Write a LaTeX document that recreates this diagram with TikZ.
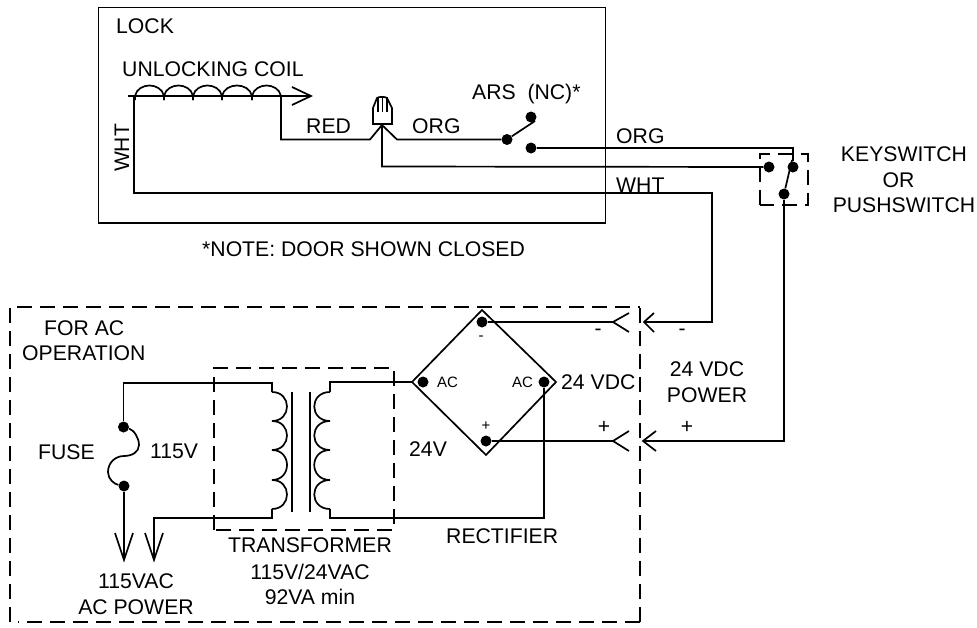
\documentclass[tikz,border=0pt]{standalone}
\usepackage{fontspec}
\setmainfont{Liberation Sans}
\begin{document}
\begin{tikzpicture}[x=1pt,y=-1pt,line join=miter,
  wire/.style={draw=black,line width=1.7pt},
  dashbox/.style={draw=black,line width=1.7pt,dash pattern=on 15pt off 8pt},
  thin wire/.style={draw=black,line width=1.5pt},
  dot/.style={circle,fill=black,draw=none,inner sep=0pt,minimum size=11pt},
  lbl/.style={inner sep=0pt,font=\fontsize{21.2}{21.2}\selectfont,anchor=base west,text=black},
  clbl/.style={inner sep=0pt,font=\fontsize{21.2}{21.2}\selectfont,anchor=base,text=black},
  small/.style={inner sep=0pt,font=\fontsize{15}{15}\selectfont,anchor=base west,text=black},
  sign/.style={inner sep=0pt,font=\fontsize{21}{21}\selectfont,anchor=center,text=black},
  ssign/.style={inner sep=0pt,font=\fontsize{15}{15}\selectfont,anchor=center,text=black}]
\useasboundingbox (0,0) rectangle (977,627);
% boxes
\draw[wire] (98.5,7.5) rectangle (605.5,223);
\draw[dashbox] (10,622) -- (10,307) -- (640,307);
\draw[dashbox] (640,622) -- (640,307.01);
\draw[dashbox] (640,622) -- (18,622);
\draw[dashbox] (214,530) -- (214,368) -- (394,368) -- (394,530) -- (214,530);
\draw[dashbox] (760,205) -- (760,154) -- (808,154) -- (808,205) -- cycle;
% dots
\node[dot] (arsC) at (507,139.5) {};
\node[dot] (arsT) at (531,117) {};
\node[dot] (arsB) at (531,148) {};
\node[dot] (ksL) at (769,167) {};
\node[dot] (ksR) at (793,167) {};
\node[dot] (ksB) at (784,194) {};
\node[dot] (brT) at (482,322) {};
\node[dot] (brL) at (423,382) {};
\node[dot] (brR) at (544,382) {};
\node[dot] (brB) at (486,441) {};
\node[dot] (fuT) at (123.5,427) {};
\node[dot] (fuB) at (124,486) {};
% waypoints
\coordinate (coilL) at (128,96);
\coordinate (coilA) at (134,96);
\coordinate (coilTip) at (311,96);
\coordinate (coilR) at (281,96);
\coordinate (plug) at (382,125);
\coordinate (acL) at (412,382);
\coordinate (tipM1) at (613,322);
\coordinate (tipM2) at (644,322);
\coordinate (tipP1) at (613,441);
\coordinate (tipP2) at (643,441);
\coordinate (tipA1) at (124,560);
\coordinate (tipA2) at (154,560);
\coordinate (priT) at (272,392);
\coordinate (priB) at (272,509);
\coordinate (secT) at (330,392);
\coordinate (secB) at (330,509);
% unlocking coil
\draw[wire] (coilL) -- (coilTip);
\draw[wire] (292,87) -- (coilTip) -- (292,105);
\foreach \a/\b in {135/164,164/193,193/222,222/252,252/281}{
  \draw[wire] (\a,100) -- (\a,96) .. controls (\a+3,82) and (\b-3,82) .. (\b,96) -- (\b,100);
}
% lock wires
\draw[wire] (coilA) -- (134,193) -- (712,193) -- (712,322) -- (tipM2);
\draw[wire] (654,313) -- (tipM2) -- (654,332);
\draw[wire] (coilR) -- (281,139.5) -- (370,139.5) -- (plug);
\draw[wire] (plug) -- (397,139.5) -- (arsC);
\draw[wire] (plug) -- (382,166.5) -- (ksL);
\draw[wire] (373,124) -- (373,108) -- (377,98) .. controls (379,96.5) and (385,96.5) .. (387,98) -- (392,108) -- (392,124) -- cycle;
\foreach \x in {378,382.5,387}{\draw[thin wire] (\x,97) -- (\x,112);}
% switches
\draw[wire] (arsC) -- (535,121);
\draw[wire] (arsB) -- (793,148) -- (ksR);
\draw[wire] (ksB) -- (792,160);
\draw[wire] (ksB) -- (784,441) -- (tipP2);
\draw[wire] (656,431) -- (tipP2) -- (656,451);
% bridge rectifier
\draw[wire] (482,310) -- (556,382) -- (486,455) -- (412,382) -- cycle;
\draw[wire] (brT) -- (tipM1);
\draw[wire] (629,313) -- (tipM1) -- (629,332);
\draw[wire] (brB) -- (tipP1);
\draw[wire] (629,431) -- (tipP1) -- (629,451);
% transformer
\draw[wire] (fuT) -- (123.5,383) -- (272,383) -- (priT);
\draw[wire] (priT) .. controls (292,392) and (292,421) .. (272,421)
  .. controls (292,421) and (292,450) .. (272,450)
  .. controls (292,450) and (292,480) .. (272,480)
  .. controls (292,480) and (292,509) .. (priB);
\draw[wire] (secT) .. controls (309,392) and (309,421) .. (330,421)
  .. controls (309,421) and (309,450) .. (330,450)
  .. controls (309,450) and (309,480) .. (330,480)
  .. controls (309,480) and (309,509) .. (secB);
\draw[wire] (292,392) -- (292,512);
\draw[wire] (310,392) -- (310,512);
\draw[wire] (acL) -- (330,382) -- (330,383) -- (secT);
\draw[wire] (secB) -- (330,518) -- (544,518) -- (brR);
\draw[wire] (priB) -- (272,518) -- (154,518) -- (tipA2);
% fuse
\draw[wire] (fuT) .. controls (134,430) and (139,438) .. (139,445)
  .. controls (139,452) and (132,456) .. (124,456)
  .. controls (115,456) and (108,463) .. (108,472)
  .. controls (108,479) and (114,484) .. (fuB);
\draw[wire] (fuB) -- (tipA1);
\draw[wire] (115,533) -- (tipA1) -- (133,533);
\draw[wire] (145,533) -- (tipA2) -- (163,533);
% labels
\node[lbl] (tLock) at (116,33) {LOCK};
\node[lbl] (tCoil) at (122,76) {UNLOCKING COIL};
\node[sign,rotate=90] (tWht) at (122,148) {WHT};
\node[lbl] (tRed) at (306,133) {RED};
\node[lbl] (tOrg) at (412,133) {ORG};
\node[lbl] (tArs) at (472,99) {ARS\ \ (NC)*};
\node[lbl] (tOrgB) at (616,143) {ORG};
\node[lbl] (tWhtB) at (616,192) {WHT};
\node[clbl] (tKey) at (904,161) {KEYSWITCH};
\node[clbl] (tOr) at (898.5,187) {OR};
\node[clbl] (tPush) at (904,212) {PUSHSWITCH};
\node[lbl] (tNote) at (202,256) {*NOTE: DOOR SHOWN CLOSED};
\node[lbl] (tFor) at (44,335) {FOR AC};
\node[lbl] (tOper) at (22,360) {OPERATION};
\node[lbl] (tFuse) at (38,459) {FUSE};
\node[lbl] (t115) at (150,458) {115V};
\node[lbl] (t24) at (409,456) {24V};
\node[lbl] (tVdc) at (561,389) {24 VDC};
\node[clbl] (tVdcB) at (707,376) {24 VDC};
\node[clbl] (tPow) at (707,402) {POWER};
\node[lbl] (tRect) at (446,543) {RECTIFIER};
\node[clbl] (tTr) at (310,552) {TRANSFORMER};
\node[clbl] (tTrB) at (310,579) {115V/24VAC};
\node[clbl] (tTrC) at (310,604) {92VA min};
\node[clbl] (tAc) at (136,588) {115VAC};
\node[clbl] (tAcB) at (136,614) {AC POWER};
\node[small] (tAcL) at (437,387) {AC};
\node[small] (tAcR) at (512,387) {AC};
\node[ssign] (sBm) at (481,338) {-};
\node[ssign] (sBp) at (486,426) {+};
\node[sign] (sM1) at (598,332) {-};
\node[sign] (sM2) at (682,332) {-};
\node[sign] (sP1) at (604,427) {+};
\node[sign] (sP2) at (687,427) {+};
\end{tikzpicture}
\end{document}
